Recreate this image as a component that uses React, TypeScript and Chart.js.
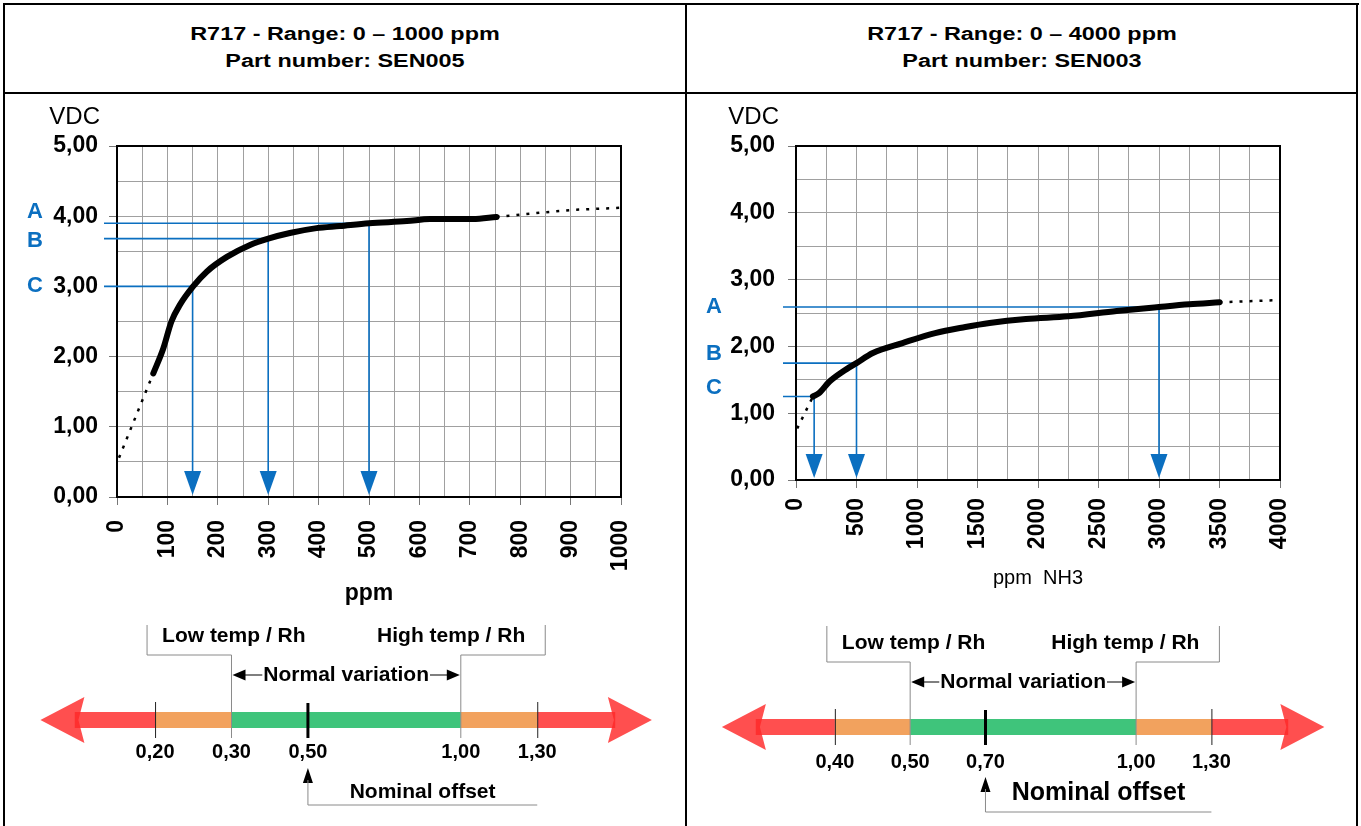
import React, { useEffect, useRef } from "react";
import { Chart, registerables } from "chart.js";

Chart.register(...registerables);

const FONT = "'Liberation Sans', Arial, Helvetica, sans-serif";
const BLUE = "#0b6fc0";
const GRID = "#a0a0a0";
const RED = "rgba(255, 40, 40, 0.82)";
const ORANGE = "#f2a25e";
const GREEN = "#3fc47b";

// ---------- Panel titles
const leftTitles = ["R717 - Range: 0 \u2013 1000 ppm", "Part number: SEN005"];
const rightTitles = ["R717 - Range: 0 \u2013 4000 ppm", "Part number: SEN003"];

// ---------- Left chart (0–1000 ppm)
const leftPpm = [72, 92, 108, 125, 151, 178, 218, 264, 300, 343, 396, 442, 500, 575, 621, 706, 753];
const leftVdc = [1.76, 2.12, 2.5, 2.74, 3.0, 3.21, 3.42, 3.59, 3.68, 3.76, 3.83, 3.86, 3.9, 3.93, 3.96, 3.96, 3.99];
const leftLeadPpm = [4, 72];
const leftLeadVdc = [0.56, 1.76];
const leftTailPpm = [753, 839, 905, 998];
const leftTailVdc = [3.99, 4.05, 4.09, 4.12];
const leftMarkerLabels = ["A", "B", "C"];
const leftMarkerPpm = [500, 300, 150];
const leftMarkerVdc = [3.9, 3.68, 3.0];

// ---------- Right chart (0–4000 ppm)
const rightPpm = [140, 190, 275, 385, 500, 635, 880, 1150, 1400, 1600, 1900, 2250, 2650, 3000, 3250, 3500];
const rightVdc = [1.25, 1.3, 1.47, 1.62, 1.75, 1.9, 2.05, 2.2, 2.29, 2.35, 2.41, 2.45, 2.53, 2.59, 2.63, 2.66];
const rightLeadPpm = [10, 140];
const rightLeadVdc = [0.77, 1.25];
const rightTailPpm = [3500, 3950];
const rightTailVdc = [2.66, 2.69];
const rightMarkerLabels = ["A", "B", "C"];
const rightMarkerPpm = [3000, 500, 150];
const rightMarkerVdc = [2.59, 1.75, 1.25];

// ---------- Offset scales (schematic slots)
const leftThresholdLabels = ["0,20", "0,30", "0,50", "1,00", "1,30"];
const rightThresholdLabels = ["0,40", "0,50", "0,70", "1,00", "1,30"];
const thresholdSlots = [0, 1, 2, 4, 5];
const bandStart = [-1.05, 0, 1, 4, 5];
const bandEnd = [0, 1, 4, 5, 6.02];
const bandColors = [RED, ORANGE, GREEN, ORANGE, RED];
const arrowTips = [-1.5, 6.5];
const lowSlot = 1;
const highSlot = 4;
const nominalSlot = 2;
const outerLowSlot = 0;
const outerHighSlot = 5;

const pts = (xs: number[], ys: number[]) => xs.map((x, i) => ({ x, y: ys[i] }));
const fmt = (v: number) => v.toFixed(2).replace(".", ",");

type CurveProps = {
  left: number; top: number; width: number; height: number;
  padTop: number; padRight: number; yAxisWidth: number; xAxisHeight: number;
  xMax: number; xStep: number; xLabelStep: number;
  ppm: number[]; vdc: number[]; leadPpm: number[]; leadVdc: number[]; tailPpm: number[]; tailVdc: number[];
  markerLabels: string[]; markerPpm: number[]; markerVdc: number[]; markerDy: number[];
  xTitle: string; xTitleSize: number; xTitleWeight: string; xTitlePad: number; xTickPad: number; yTickPad: number;
};

function CurveChart(p: CurveProps) {
  const ref = useRef<HTMLCanvasElement>(null);
  useEffect(() => {
    const overlay = {
      id: "overlay",
      beforeDatasetsDraw(chart: any) {
        const { ctx, chartArea: a, scales } = chart;
        const xs = scales.x, ys = scales.y;
        ctx.save();
        ctx.strokeStyle = "#000";
        ctx.lineWidth = 2;
        ctx.strokeRect(a.left, a.top, a.right - a.left, a.bottom - a.top);
        ctx.fillStyle = "#000";
        ctx.font = `24px ${FONT}`;
        ctx.textAlign = "right";
        ctx.textBaseline = "middle";
        ctx.fillText("VDC", a.left - 17, a.top - 29);
        p.markerLabels.forEach((lab, i) => {
          const x = xs.getPixelForValue(p.markerPpm[i]);
          const y = ys.getPixelForValue(p.markerVdc[i]);
          ctx.strokeStyle = BLUE;
          ctx.lineWidth = 1.6;
          ctx.beginPath();
          ctx.moveTo(a.left - 13, y);
          ctx.lineTo(x, y);
          ctx.lineTo(x, a.bottom - 20);
          ctx.stroke();
          ctx.fillStyle = BLUE;
          ctx.beginPath();
          ctx.moveTo(x, a.bottom - 2);
          ctx.lineTo(x - 8.5, a.bottom - 26);
          ctx.lineTo(x + 8.5, a.bottom - 26);
          ctx.closePath();
          ctx.fill();
          ctx.font = `bold 22px ${FONT}`;
          ctx.textAlign = "center";
          ctx.fillText(lab, a.left - 82, y + p.markerDy[i]);
        });
        ctx.restore();
      },
    };
    const tickFont = { family: FONT, size: 23, weight: "bold" as const };
    const chart = new Chart(ref.current!, {
      type: "line",
      data: {
        datasets: [
          { data: pts(p.leadPpm, p.leadVdc), borderColor: "#000", borderWidth: 2.5, borderDash: [3, 7], pointRadius: 0 },
          {
            data: pts(p.ppm, p.vdc), borderColor: "#000", borderWidth: 6, pointRadius: 0,
            cubicInterpolationMode: "monotone", borderCapStyle: "round", borderJoinStyle: "round",
          },
          { data: pts(p.tailPpm, p.tailVdc), borderColor: "#000", borderWidth: 2.5, borderDash: [3, 7], pointRadius: 0 },
        ],
      },
      options: {
        animation: false,
        responsive: false,
        maintainAspectRatio: false,
        events: [],
        layout: { padding: { top: p.padTop, right: p.padRight, left: 0, bottom: 0 } },
        plugins: { legend: { display: false }, tooltip: { enabled: false } },
        scales: {
          x: {
            type: "linear", min: 0, max: p.xMax,
            ticks: {
              stepSize: p.xStep, autoSkip: false, minRotation: 90, maxRotation: 90, padding: p.xTickPad,
              color: "#000", font: tickFont,
              callback: (v: any) => (Number(v) % p.xLabelStep === 0 ? String(v) : ""),
            },
            grid: {
              color: GRID, lineWidth: 1, tickLength: 8,
              tickColor: (c: any) => (c.tick && c.tick.value % p.xLabelStep === 0 ? "#777" : "rgba(0,0,0,0)"),
            },
            border: { display: false },
            title: {
              display: true, text: p.xTitle, color: "#000",
              font: { family: FONT, size: p.xTitleSize, weight: p.xTitleWeight as any },
              padding: { top: 0, bottom: p.xTitlePad },
            },
            afterFit: (s: any) => { s.height = p.xAxisHeight; },
          },
          y: {
            type: "linear", min: 0, max: 5,
            ticks: {
              stepSize: 0.5, autoSkip: false, padding: p.yTickPad, color: "#000", font: tickFont,
              callback: (v: any) => (Number.isInteger(Number(v)) ? fmt(Number(v)) : ""),
            },
            grid: {
              color: GRID, lineWidth: 1, tickLength: 8,
              tickColor: (c: any) => (c.tick && Number.isInteger(c.tick.value) ? "#777" : "rgba(0,0,0,0)"),
            },
            border: { display: false },
            afterFit: (s: any) => { s.width = p.yAxisWidth; },
          },
        },
      } as any,
      plugins: [overlay],
    });
    return () => chart.destroy();
  }, []);
  return (
    <canvas
      ref={ref}
      width={p.width}
      height={p.height}
      style={{ position: "absolute", left: p.left, top: p.top, width: p.width, height: p.height }}
    />
  );
}

type DiagramProps = {
  left: number; top: number; width: number; height: number;
  labels: string[];
  bracketTop: number; tickLabelY: number; nominalTip: number; nominalTextY: number; nominalSize: number;
};

function OffsetDiagram(p: DiagramProps) {
  const ref = useRef<HTMLCanvasElement>(null);
  useEffect(() => {
    const arrowHead = (ctx: any, tipX: number, y: number, dir: number) => {
      ctx.beginPath();
      ctx.moveTo(tipX, y);
      ctx.lineTo(tipX + dir * 44, y - 23);
      ctx.lineTo(tipX + dir * 38, y);
      ctx.lineTo(tipX + dir * 44, y + 23);
      ctx.closePath();
      ctx.fill();
    };
    const smallArrow = (ctx: any, tipX: number, y: number, dir: number) => {
      ctx.beginPath();
      ctx.moveTo(tipX, y);
      ctx.lineTo(tipX + dir * 13, y - 5.5);
      ctx.lineTo(tipX + dir * 13, y + 5.5);
      ctx.closePath();
      ctx.fill();
    };
    const plugin = {
      id: "diagram",
      beforeDatasetsDraw(chart: any) {
        const { ctx, scales } = chart;
        const y0 = scales.y.getPixelForValue(0);
        ctx.save();
        ctx.fillStyle = RED;
        arrowHead(ctx, scales.x.getPixelForValue(arrowTips[0]), y0, 1);
        arrowHead(ctx, scales.x.getPixelForValue(arrowTips[1]), y0, -1);
        ctx.restore();
      },
      afterDatasetsDraw(chart: any) {
        const { ctx, scales } = chart;
        const X = (s: number) => scales.x.getPixelForValue(s);
        const y0 = scales.y.getPixelForValue(0);
        ctx.save();
        // outer dividers
        ctx.strokeStyle = "#222";
        ctx.lineWidth = 1;
        [outerLowSlot, outerHighSlot].forEach((s) => {
          ctx.beginPath();
          ctx.moveTo(X(s) + 0.5, y0 - 18);
          ctx.lineTo(X(s) + 0.5, y0 + 18);
          ctx.stroke();
        });
        // brackets
        ctx.strokeStyle = "#8a8a8a";
        ctx.beginPath();
        ctx.moveTo(X(outerLowSlot) - 8, y0 + p.bracketTop);
        ctx.lineTo(X(outerLowSlot) - 8, y0 - 65);
        ctx.lineTo(X(lowSlot), y0 - 65);
        ctx.lineTo(X(lowSlot), y0 + 18);
        ctx.moveTo(X(outerHighSlot) + 8, y0 + p.bracketTop);
        ctx.lineTo(X(outerHighSlot) + 8, y0 - 65);
        ctx.lineTo(X(highSlot), y0 - 65);
        ctx.lineTo(X(highSlot), y0 + 18);
        ctx.stroke();
        // nominal marker
        ctx.strokeStyle = "#000";
        ctx.lineWidth = 3;
        ctx.beginPath();
        ctx.moveTo(X(nominalSlot), y0 - 17);
        ctx.lineTo(X(nominalSlot), y0 + 18);
        ctx.stroke();
        // texts
        ctx.fillStyle = "#000";
        ctx.textBaseline = "middle";
        ctx.font = `bold 21px ${FONT}`;
        ctx.textAlign = "left";
        ctx.fillText("Low temp / Rh", X(outerLowSlot) + 7, y0 - 84);
        ctx.textAlign = "right";
        ctx.fillText("High temp / Rh", X(outerHighSlot) - 12, y0 - 84);
        // normal variation
        const mid = (X(lowSlot) + X(highSlot)) / 2;
        const nv = "Normal variation";
        const w = ctx.measureText(nv).width;
        ctx.textAlign = "center";
        ctx.fillText(nv, mid, y0 - 45);
        ctx.lineWidth = 1.2;
        ctx.beginPath();
        ctx.moveTo(X(lowSlot) + 8, y0 - 45);
        ctx.lineTo(mid - w / 2 - 1, y0 - 45);
        ctx.moveTo(mid + w / 2 + 1, y0 - 45);
        ctx.lineTo(X(highSlot) - 8, y0 - 45);
        ctx.stroke();
        smallArrow(ctx, X(lowSlot) + 1, y0 - 45, 1);
        smallArrow(ctx, X(highSlot) - 1, y0 - 45, -1);
        // threshold labels
        ctx.font = `bold 20px ${FONT}`;
        thresholdSlots.forEach((s, i) => {
          ctx.fillText(p.labels[i], X(s), y0 + p.tickLabelY);
        });
        // nominal offset arrow + leader
        const nx = X(nominalSlot);
        ctx.beginPath();
        ctx.moveTo(nx, y0 + p.nominalTip);
        ctx.lineTo(nx - 5, y0 + p.nominalTip + 15);
        ctx.lineTo(nx + 5, y0 + p.nominalTip + 15);
        ctx.closePath();
        ctx.fill();
        ctx.strokeStyle = "#8a8a8a";
        ctx.lineWidth = 1;
        ctx.beginPath();
        ctx.moveTo(nx, y0 + p.nominalTip + 12);
        ctx.lineTo(nx, y0 + 85);
        ctx.lineTo(X(outerHighSlot), y0 + 85);
        ctx.stroke();
        ctx.font = `bold ${p.nominalSize}px ${FONT}`;
        ctx.fillText("Nominal offset", X(3.5), y0 + p.nominalTextY);
        ctx.restore();
      },
    };
    const chart = new Chart(ref.current!, {
      type: "line",
      data: {
        datasets: bandStart.map((s, i) => ({
          data: [{ x: s, y: 0 }, { x: bandEnd[i], y: 0 }],
          borderColor: bandColors[i], borderWidth: 16, borderCapStyle: "butt", pointRadius: 0,
        })),
      },
      options: {
        animation: false, responsive: false, maintainAspectRatio: false, events: [],
        layout: { padding: 0 },
        plugins: { legend: { display: false }, tooltip: { enabled: false } },
        scales: {
          x: { type: "linear", display: false, min: -1.95, max: 6.92 },
          y: { type: "linear", display: false, min: -1, max: 1 },
        },
      } as any,
      plugins: [plugin],
    });
    return () => chart.destroy();
  }, []);
  return (
    <canvas
      ref={ref}
      width={p.width}
      height={p.height}
      style={{ position: "absolute", left: p.left, top: p.top, width: p.width, height: p.height }}
    />
  );
}

function Header({ cx, lines }: { cx: number; lines: string[] }) {
  return (
    <div
      style={{
        position: "absolute", left: cx - 300, width: 600, top: 21, textAlign: "center",
        fontWeight: "bold", fontSize: 18, lineHeight: "27px", transform: "scaleX(1.3)",
        transformOrigin: "center", color: "#000", whiteSpace: "nowrap",
      }}
    >
      {lines.map((l) => (
        <div key={l}>{l}</div>
      ))}
    </div>
  );
}

const line = (left: number, top: number, width: number, height: number) => (
  <div style={{ position: "absolute", left, top, width, height, background: "#000" }} />
);

export default function App() {
  return (
    <div
      style={{
        position: "absolute", left: 0, top: 0, width: 1361, height: 826, background: "#fff",
        overflow: "hidden", fontFamily: FONT,
      }}
    >
      {line(3, 3, 1356, 2)}
      {line(3, 3, 2, 823)}
      {line(1356, 3, 2, 823)}
      {line(3, 92, 1355, 2)}
      {line(685, 3, 2, 823)}
      <Header cx={345} lines={leftTitles} />
      <Header cx={1022} lines={rightTitles} />
      <CurveChart
        left={6} top={96} width={678} height={512}
        padTop={50} padRight={63} yAxisWidth={111} xAxisHeight={111}
        xMax={1000} xStep={50} xLabelStep={100}
        ppm={leftPpm} vdc={leftVdc} leadPpm={leftLeadPpm} leadVdc={leftLeadVdc}
        tailPpm={leftTailPpm} tailVdc={leftTailVdc}
        markerLabels={leftMarkerLabels} markerPpm={leftMarkerPpm} markerVdc={leftMarkerVdc}
        markerDy={[-11, 2, 0]}
        xTitle="ppm" xTitleSize={23} xTitleWeight="bold" xTitlePad={1} xTickPad={15} yTickPad={11}
      />
      <CurveChart
        left={688} top={96} width={668} height={512}
        padTop={50} padRight={76} yAxisWidth={108} xAxisHeight={128}
        xMax={4000} xStep={250} xLabelStep={500}
        ppm={rightPpm} vdc={rightVdc} leadPpm={rightLeadPpm} leadVdc={rightLeadVdc}
        tailPpm={rightTailPpm} tailVdc={rightTailVdc}
        markerLabels={rightMarkerLabels} markerPpm={rightMarkerPpm} markerVdc={rightMarkerVdc}
        markerDy={[0, -9, -9]}
        xTitle="ppm  NH3" xTitleSize={20} xTitleWeight="normal" xTitlePad={18} xTickPad={10} yTickPad={13}
      />
      <OffsetDiagram
        left={6} top={610} width={678} height={220} labels={leftThresholdLabels}
        bracketTop={-95} tickLabelY={32} nominalTip={48} nominalTextY={72} nominalSize={21}
      />
      <OffsetDiagram
        left={688} top={617} width={668} height={220} labels={rightThresholdLabels}
        bracketTop={-101} tickLabelY={35} nominalTip={50} nominalTextY={66} nominalSize={25}
      />
    </div>
  );
}
